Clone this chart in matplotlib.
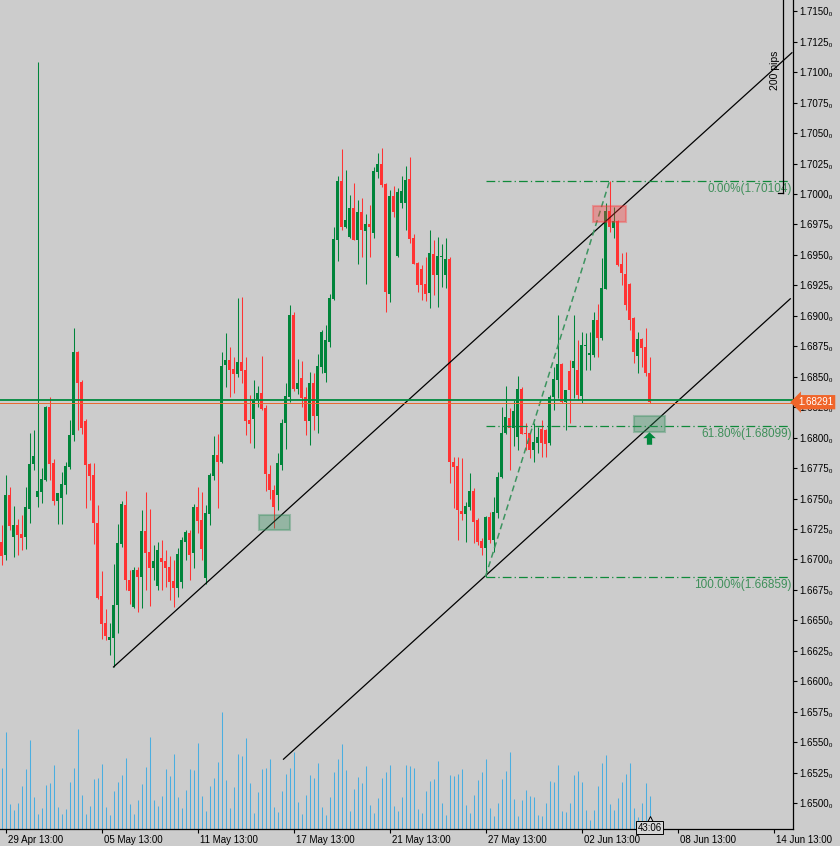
import matplotlib
matplotlib.use('Agg')
import matplotlib.pyplot as plt
import matplotlib.transforms as mtransforms
from matplotlib.patches import Rectangle
from matplotlib.path import Path
import numpy as np

# ---------------- data (4H candles) ----------------
opens = [
    1.67143, 1.67036, 1.67529, 1.67184, 1.67283, 1.67209, 1.67184, 1.67414, 1.67784, 1.67513,
    1.67554, 1.67652, 1.68252, 1.67792, 1.67480, 1.67504, 1.67611, 1.67759, 1.68022, 1.68703,
    1.68457, 1.68137, 1.67784, 1.67693, 1.67299, 1.66700, 1.66478, 1.66339, 1.66355, 1.66626,
    1.67127, 1.67447, 1.66831, 1.66610, 1.66913, 1.66856, 1.67233, 1.67061, 1.66930, 1.66782,
    1.67012, 1.66987, 1.66938, 1.66823, 1.66766, 1.66815, 1.67143, 1.67217, 1.67053, 1.67431,
    1.67324, 1.66848, 1.67373, 1.67685, 1.67857, 1.67800, 1.68596, 1.68637, 1.68564, 1.68522,
    1.68621, 1.68555, 1.68145, 1.68153, 1.68309, 1.68366, 1.68243, 1.67701, 1.67570, 1.67529,
    1.67775, 1.68120, 1.68334, 1.69007, 1.68399, 1.68490, 1.68334, 1.68137, 1.68449, 1.68178,
    1.68580, 1.68531, 1.68785, 1.69138, 1.69623, 1.70107, 1.69729, 1.69647, 1.69885, 1.69623,
    1.69852, 1.69696, 1.69754, 1.69680, 1.70181, 1.70247, 1.70082, 1.69179, 1.69984, 1.69491,
    1.69926, 1.69926, 1.70123, 1.69639, 1.69434, 1.69385, 1.69261, 1.69187, 1.69508, 1.69335,
    1.69483, 1.69335, 1.69467, 1.67800, 1.67767, 1.67398, 1.67373, 1.67431, 1.67562, 1.67324,
    1.67151, 1.67094, 1.67348, 1.67160, 1.67381, 1.67677, 1.68038, 1.68161, 1.68079, 1.68005,
    1.68399, 1.68038, 1.68038, 1.67898, 1.67956, 1.68071, 1.68063, 1.67956, 1.68334, 1.68473,
    1.68604, 1.68293, 1.68547, 1.68572, 1.68555, 1.68342, 1.68753, 1.68678, 1.68678, 1.68966,
    1.68818, 1.69221, 1.69861, 1.69721, 1.69779, 1.69426, 1.69343, 1.69261, 1.68982, 1.68670,
    1.68810, 1.68744, 1.68531]

highs = [
    1.67283, 1.67693, 1.67595, 1.67439, 1.67332, 1.67365, 1.67595, 1.68038, 1.68063, 1.71084,
    1.67751, 1.68260, 1.68334, 1.67825, 1.67545, 1.67718, 1.67800, 1.68145, 1.68900, 1.68710,
    1.68473, 1.68153, 1.67792, 1.67792, 1.67447, 1.66905, 1.66593, 1.66478, 1.66963, 1.67291,
    1.67480, 1.67562, 1.66913, 1.66938, 1.66938, 1.67406, 1.67554, 1.67414, 1.67119, 1.67143,
    1.67160, 1.67077, 1.67028, 1.66995, 1.67094, 1.67184, 1.67242, 1.67242, 1.67455, 1.67595,
    1.67554, 1.67447, 1.67710, 1.68013, 1.68030, 1.68703, 1.68859, 1.68744, 1.68662, 1.69146,
    1.69155, 1.68662, 1.68350, 1.68473, 1.68424, 1.68670, 1.68268, 1.67775, 1.67611, 1.67874,
    1.68153, 1.68449, 1.69089, 1.69031, 1.68646, 1.68629, 1.68416, 1.68539, 1.68531, 1.68687,
    1.68884, 1.68925, 1.69179, 1.69729, 1.70148, 1.70370, 1.70197, 1.69992, 1.70091, 1.69951,
    1.69967, 1.69836, 1.69910, 1.70222, 1.70337, 1.70378, 1.70090, 1.70033, 1.70066, 1.70050,
    1.70148, 1.70230, 1.70304, 1.69672, 1.69442, 1.69417, 1.69483, 1.69705, 1.69623, 1.69647,
    1.69590, 1.69639, 1.69483, 1.67841, 1.67841, 1.67833, 1.67472, 1.67710, 1.67587, 1.67340,
    1.67176, 1.67357, 1.67389, 1.67513, 1.67718, 1.68252, 1.68424, 1.68243, 1.68309, 1.68506,
    1.68416, 1.68120, 1.68046, 1.68120, 1.68087, 1.68145, 1.68071, 1.68350, 1.68580, 1.69007,
    1.68613, 1.68391, 1.68637, 1.69007, 1.68802, 1.68867, 1.68859, 1.68867, 1.69031, 1.69097,
    1.69475, 1.69926, 1.70104, 1.69894, 1.69787, 1.69516, 1.69524, 1.69269, 1.68990, 1.68867,
    1.68818, 1.68900, 1.68662]

lows = [
    1.66954, 1.66995, 1.67242, 1.67020, 1.67036, 1.67077, 1.67086, 1.67299, 1.67734, 1.67431,
    1.67463, 1.67644, 1.67652, 1.67447, 1.67291, 1.67291, 1.67537, 1.67743, 1.67972, 1.68063,
    1.68030, 1.67422, 1.67488, 1.67127, 1.66675, 1.66347, 1.66339, 1.66215, 1.66117, 1.66396,
    1.67102, 1.66749, 1.66634, 1.66601, 1.66568, 1.66601, 1.66749, 1.66618, 1.66831, 1.66749,
    1.66749, 1.66774, 1.66667, 1.66610, 1.66692, 1.66766, 1.66995, 1.66831, 1.66930, 1.67217,
    1.66995, 1.66798, 1.67283, 1.67652, 1.67422, 1.67792, 1.68416, 1.68334, 1.68366, 1.68498,
    1.68449, 1.68022, 1.67956, 1.67915, 1.68252, 1.68227, 1.67562, 1.67496, 1.67258, 1.67406,
    1.67734, 1.67907, 1.68293, 1.68383, 1.68358, 1.68252, 1.68022, 1.67940, 1.68063, 1.68038,
    1.68531, 1.68457, 1.68744, 1.69130, 1.69450, 1.69705, 1.69721, 1.69639, 1.69623, 1.69426,
    1.69483, 1.69261, 1.69483, 1.69639, 1.70132, 1.70058, 1.69031, 1.69114, 1.69811, 1.69483,
    1.69885, 1.69705, 1.69598, 1.69426, 1.69196, 1.69130, 1.69122, 1.69064, 1.69171, 1.69073,
    1.69237, 1.69229, 1.67628, 1.67422, 1.67160, 1.67324, 1.67143, 1.67406, 1.67135, 1.67119,
    1.67036, 1.66859, 1.67135, 1.67061, 1.67340, 1.67669, 1.68030, 1.67734, 1.67931, 1.67898,
    1.68030, 1.67898, 1.67833, 1.67800, 1.67874, 1.67841, 1.67841, 1.67940, 1.68227, 1.68325,
    1.68284, 1.68063, 1.68120, 1.68325, 1.68309, 1.68284, 1.68555, 1.68555, 1.68662, 1.68662,
    1.68802, 1.69221, 1.69688, 1.69639, 1.69409, 1.69253, 1.69048, 1.68884, 1.68613, 1.68531,
    1.68580, 1.68506, 1.68284]

closes = [
    1.67028, 1.67529, 1.67275, 1.67283, 1.67201, 1.67176, 1.67431, 1.67784, 1.67849, 1.67562,
    1.67660, 1.68252, 1.67784, 1.67480, 1.67545, 1.67619, 1.67767, 1.68022, 1.68703, 1.68449,
    1.68079, 1.67775, 1.67685, 1.67299, 1.66683, 1.66470, 1.66371, 1.66363, 1.66626, 1.67135,
    1.67455, 1.66831, 1.66741, 1.66913, 1.66856, 1.67233, 1.67053, 1.66930, 1.66987, 1.67077,
    1.66979, 1.66930, 1.66815, 1.66766, 1.67045, 1.67160, 1.67225, 1.67036, 1.67431, 1.67316,
    1.67086, 1.67381, 1.67693, 1.67857, 1.67800, 1.68588, 1.68637, 1.68555, 1.68522, 1.68621,
    1.68547, 1.68137, 1.68112, 1.68309, 1.68366, 1.68235, 1.67701, 1.67570, 1.67431, 1.67792,
    1.68120, 1.68342, 1.69007, 1.68399, 1.68449, 1.68325, 1.68137, 1.68449, 1.68178, 1.68588,
    1.68867, 1.68802, 1.69146, 1.69631, 1.70107, 1.69729, 1.69787, 1.69885, 1.69623, 1.69852,
    1.69705, 1.69754, 1.69729, 1.70189, 1.70247, 1.70074, 1.69196, 1.69984, 1.69852, 1.70017,
    1.70025, 1.70115, 1.69631, 1.69426, 1.69253, 1.69253, 1.69179, 1.69516, 1.69335, 1.69491,
    1.69491, 1.69467, 1.67800, 1.67759, 1.67406, 1.67373, 1.67439, 1.67562, 1.67307, 1.67143,
    1.67094, 1.67348, 1.67160, 1.67389, 1.67677, 1.68038, 1.68170, 1.68079, 1.68219, 1.68399,
    1.68030, 1.68030, 1.67898, 1.67964, 1.68005, 1.67956, 1.67948, 1.68334, 1.68481, 1.68604,
    1.68293, 1.68391, 1.68391, 1.68629, 1.68350, 1.68761, 1.68761, 1.68695, 1.68966, 1.68818,
    1.69229, 1.69861, 1.69729, 1.69779, 1.69417, 1.69352, 1.69089, 1.68966, 1.68703, 1.68810,
    1.68736, 1.68531, 1.68291]

volumes = [
    182, 292, 75, 57, 77, 129, 180, 267, 95, 45,
    62, 132, 139, 192, 65, 45, 60, 141, 183, 300,
    102, 45, 69, 150, 153, 195, 66, 42, 114, 141,
    162, 213, 75, 45, 87, 135, 186, 276, 87, 69,
    99, 180, 159, 225, 96, 63, 117, 180, 177, 258,
    99, 54, 129, 153, 201, 351, 147, 63, 126, 225,
    219, 273, 139, 48, 111, 180, 183, 210, 66, 51,
    114, 165, 183, 231, 81, 45, 102, 162, 153, 198,
    66, 42, 96, 171, 210, 255, 177, 54, 120, 156,
    138, 189, 72, 48, 93, 153, 171, 192, 69, 54,
    96, 192, 189, 183, 60, 47, 115, 144, 149, 204,
    78, 42, 162, 159, 165, 180, 72, 48, 102, 147,
    171, 210, 63, 39, 78, 150, 174, 231, 90, 39,
    87, 117, 99, 96, 42, 39, 78, 144, 141, 192,
    54, 51, 78, 162, 174, 141, 57, 27, 57, 129,
    198, 222, 75, 57, 93, 141, 165, 198, 63, 36,
    78, 138, 99]

date_tick_bars = [1, 25, 49, 73, 97, 121, 145, 169, 193]
date_tick_labels = ["29 Apr 13:00", "05 May 13:00", "11 May 13:00", "17 May 13:00",
                    "21 May 13:00", "27 May 13:00", "02 Jun 13:00", "08 Jun 13:00",
                    "14 Jun 13:00"]
price_ticks = [round(1.6500 + 0.0025 * k, 4) for k in range(27)]

# Fibonacci retracement (from swing low bar 121 to swing high bar 152)
fib_levels = [1.70104, 1.68099, 1.66859]
fib_labels = ["0.00%(1.70104)", "61.80%(1.68099)", "100.00%(1.66859)"]
fib_anchor_bars = [121, 152]
fib_anchor_prices = [1.66859, 1.70104]

# channel lines
chan1_bars = [28, 197.6]
chan1_prices = [1.66117, 1.71160]
chan2_bars = [70.5, 197.2]
chan2_prices = [1.65360, 1.69140]

last_price = 1.68291
hline_price = 1.68309

# ---------------- styling ----------------
BG = '#cccccc'
GREEN = '#00843a'
RED = '#ff3333'
VOLC = '#4aaee0'
FIBC = '#0f8a3a'
FIBTXT = '#3f8f5a'
FONT = ['Liberation Sans', 'DejaVu Sans']

W, H = 840, 846
PLOT_R = 793
PLOT_B = 829

fig = plt.figure(figsize=(W / 100, H / 100), dpi=100, facecolor=BG)
rect = [0, (H - PLOT_B) / H, PLOT_R / W, PLOT_B / H]
ax = fig.add_axes(rect)
axv = ax.twinx()
ax.set_zorder(axv.get_zorder() + 1)
ax.patch.set_visible(False)
axv.patch.set_facecolor(BG)

n = len(opens)
x = np.arange(n)
o = np.array(opens); h = np.array(highs); l = np.array(lows); c = np.array(closes)
up = c >= o
cols = np.where(up, GREEN, RED)

xmin = -0.375
xmax = xmin + PLOT_R / 4.0
ymax = 1.71593
ymin = ymax - PLOT_B * 0.0000821
ax.set_xlim(xmin, xmax)
ax.set_ylim(ymin, ymax)

# volumes
axv.vlines(x, 0, volumes, colors=VOLC, lw=0.75)
axv.set_ylim(0, PLOT_B * 3)
axv.yaxis.set_visible(False)
for s in axv.spines.values():
    s.set_visible(False)

# candles
ax.vlines(x, l, h, colors=cols, lw=0.75, zorder=3)
body_low = np.minimum(o, c)
body_h = np.maximum(np.abs(c - o), 0.00009)
ax.bar(x, body_h, width=0.75, bottom=body_low, color=cols, linewidth=0, zorder=4)

# channel lines
ax.plot(chan1_bars, chan1_prices, color='black', lw=0.9, zorder=5)
ax.plot(chan2_bars, chan2_prices, color='black', lw=0.9, zorder=5)

# fib
fib_end = (790 - 1.5) / 4
for lv in fib_levels:
    ax.plot([fib_anchor_bars[0], fib_end], [lv, lv], color=FIBC, lw=0.9,
            linestyle=(0, (7, 2.5, 1, 2.5)), zorder=5)
ax.plot(fib_anchor_bars, fib_anchor_prices, color='#3d9460', lw=1.1,
        linestyle=(0, (4, 2.5)), zorder=5)
tr_right = mtransforms.blended_transform_factory(ax.transAxes, ax.transData)
for lv, txt in zip(fib_levels, fib_labels):
    ax.annotate(txt, xy=(791.5 / PLOT_R, lv), xycoords=tr_right,
                xytext=(0, -2), textcoords='offset pixels', ha='right', va='top',
                fontsize=8.5, color=FIBTXT, family=FONT, zorder=6)

# current price lines
ax.axhline(hline_price, color='#008a3e', lw=1.3, zorder=6)
ax.axhline(last_price - 0.00004, color='#e8692c', lw=0.7, zorder=6)

# zones
zones = [
    (147.9, 156.1, 1.69770, 1.69902, RED),
    (64.4, 72.1, 1.67242, 1.67365, '#2e8b57'),
    (158.1, 165.9, 1.68046, 1.68178, '#2e8b57'),
]
for x0, x1, y0, y1, zc in zones:
    ax.add_patch(Rectangle((x0, y0), x1 - x0, y1 - y0, facecolor=zc, alpha=0.35,
                           edgecolor='none', zorder=7))
    ax.add_patch(Rectangle((x0, y0), x1 - x0, y1 - y0, facecolor='none',
                           edgecolor=zc, alpha=0.35, lw=1.5, zorder=7))

# up arrow marker
arrow = Path([(0, 1), (1, 0.05), (0.42, 0.05), (0.42, -1), (-0.42, -1),
              (-0.42, 0.05), (-1, 0.05), (0, 1)])
ax.plot([161.9], [1.67993], marker=arrow, ms=9, color='#00873c', mec='none', zorder=8)

# 200 pips ruler
ruler_x = (783 - 1.5) / 4
ax.plot([ruler_x, ruler_x], [1.70008, ymax + 0.001], color='black', lw=0.9, zorder=6,
        clip_on=True)
ax.plot([ruler_x - 1.3, ruler_x], [1.70008, 1.70008], color='black', lw=0.9, zorder=6)
ax.text((775 - 1.5) / 4, 1.71018, '200 pips', rotation=90, ha='center', va='center',
        fontsize=7.5, family=FONT, color='black', zorder=6)

# axes styling
for side in ['left', 'top']:
    ax.spines[side].set_visible(False)
for side in ['right', 'bottom']:
    ax.spines[side].set_color('black')
    ax.spines[side].set_linewidth(0.9)

ax.yaxis.tick_right()
ax.set_yticks(price_ticks)
ax.set_yticklabels([f"{v:.4f}\u2080" for v in price_ticks], fontsize=7, family=FONT)
ax.tick_params(axis='y', direction='out', length=3, width=0.8, pad=1.5, colors='black')

ax.set_xticks(date_tick_bars)
ax.set_xticklabels(date_tick_labels, fontsize=7, family=FONT)
ax.tick_params(axis='x', direction='out', length=3, width=0.8, pad=1.5, colors='black')
off = mtransforms.ScaledTranslation(2 / 100, 0, fig.dpi_scale_trans)
for lbl in ax.get_xticklabels():
    lbl.set_ha('left')
    lbl.set_transform(lbl.get_transform() + off)

# last price tag (covers the tick label behind it, as in the terminal)
ax.text(1.0 + 5 / PLOT_R, last_price, f"{last_price:.5f}", transform=tr_right,
        ha='left', va='center', fontsize=7, family=FONT, color='white', zorder=20,
        clip_on=False,
        bbox=dict(boxstyle='larrow,pad=0.22', fc='#f0652a', ec='none'))

# countdown box
tr_bottom = mtransforms.blended_transform_factory(ax.transData, ax.transAxes)
ax.plot([162.1], [10 / PLOT_B], transform=tr_bottom, marker='^', ms=5, mfc='#d6d6d6',
        mec='black', mew=0.7, zorder=19, clip_on=False)
ax.text(162.1, 1.5 / PLOT_B, '43:06', transform=tr_bottom, ha='center', va='center',
        fontsize=7, family=FONT, color='black', zorder=20, clip_on=False,
        bbox=dict(boxstyle='square,pad=0.15', fc='#d6d6d6', ec='black', lw=0.7))

fig.savefig('out.png', dpi=100, facecolor=BG)
